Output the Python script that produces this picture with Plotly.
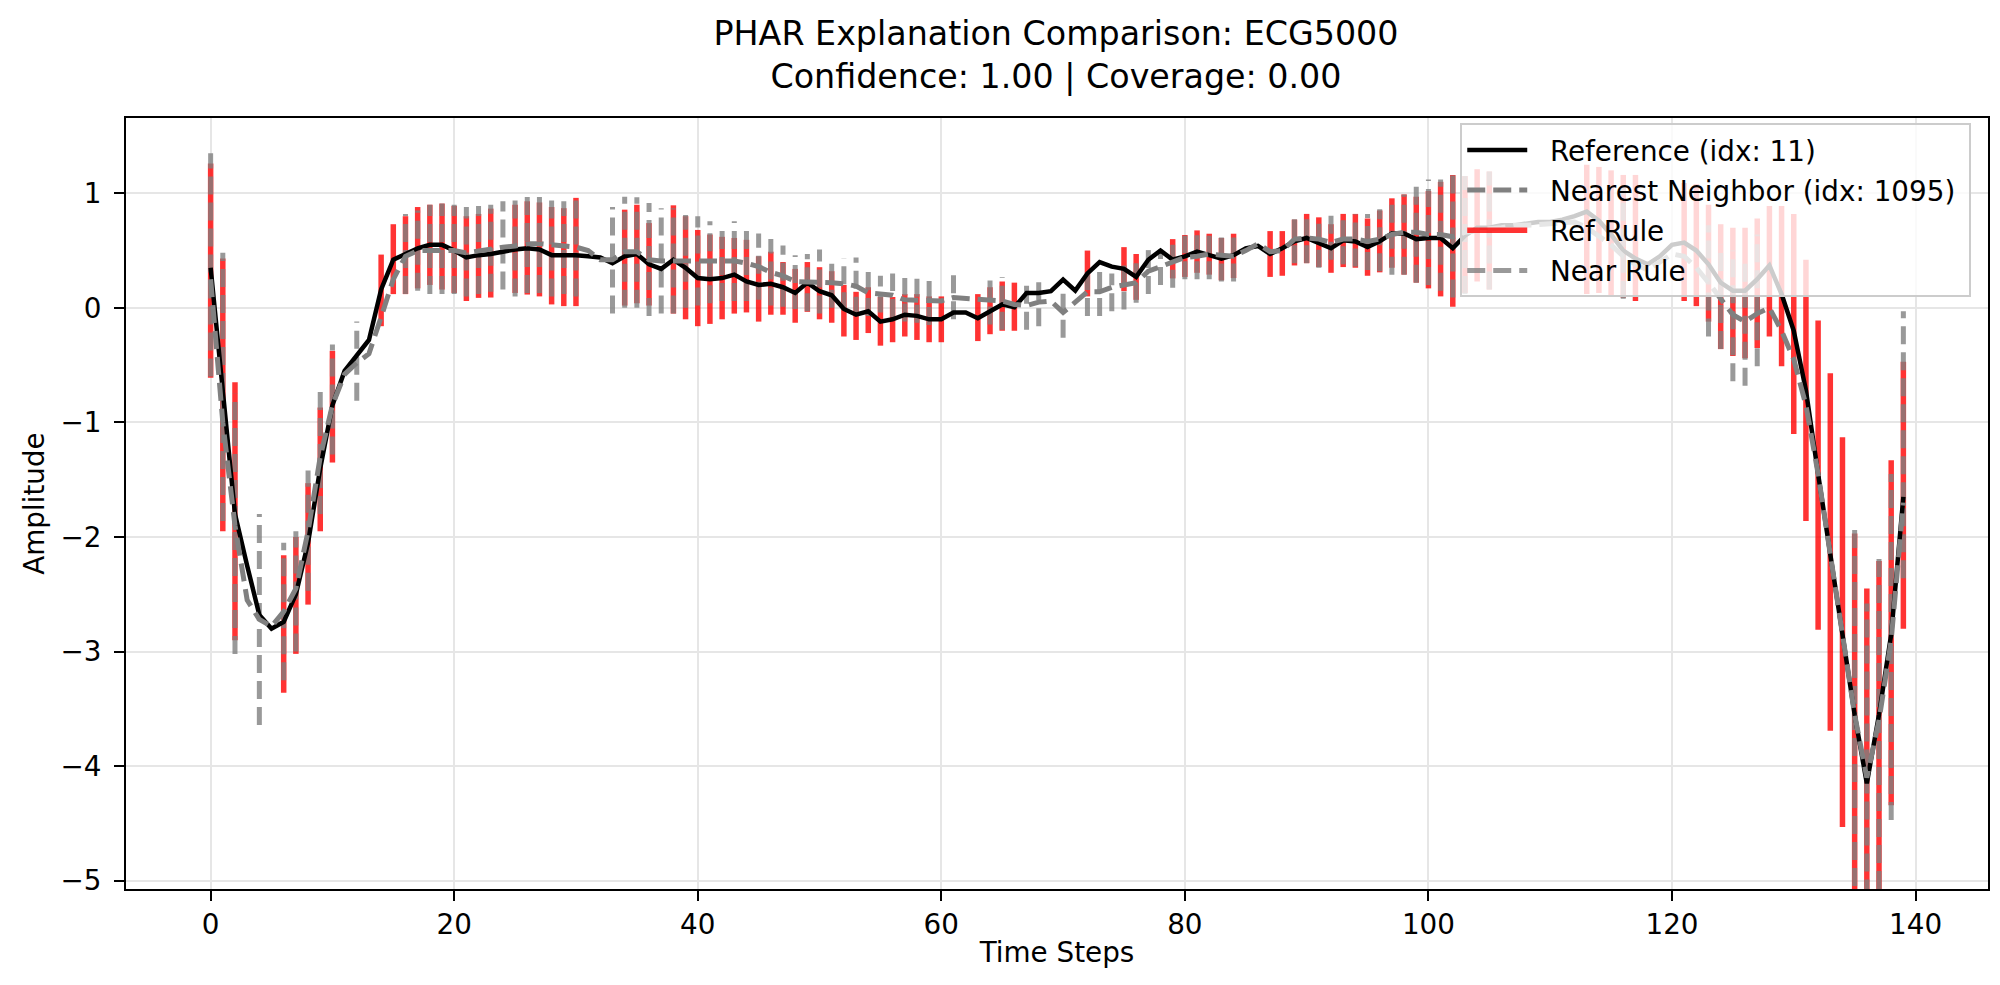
import plotly.graph_objects as go

# ---------------- data ----------------
time_steps = list(range(140))

reference = [
    0.35, -0.76, -1.80, -2.25, -2.68, -2.80, -2.74, -2.50, -2.05, -1.40,
    -0.85, -0.55, -0.42, -0.28, 0.16, 0.42, 0.47, 0.52, 0.55, 0.55,
    0.50, 0.44, 0.46, 0.47, 0.49, 0.51, 0.52, 0.51, 0.46, 0.46,
    0.46, 0.45, 0.44, 0.39, 0.45, 0.47, 0.38, 0.34, 0.42, 0.35,
    0.26, 0.25, 0.26, 0.29, 0.23, 0.20, 0.21, 0.18, 0.13, 0.22,
    0.145, 0.11, -0.01, -0.06, -0.03, -0.12, -0.10, -0.06, -0.07, -0.10,
    -0.10, -0.04, -0.04, -0.09, -0.03, 0.03, 0.005, 0.13, 0.13, 0.145,
    0.246, 0.15, 0.30, 0.40, 0.36, 0.34, 0.27, 0.42, 0.50, 0.42,
    0.45, 0.49, 0.46, 0.43, 0.46, 0.52, 0.54, 0.47, 0.52, 0.58,
    0.61, 0.57, 0.52, 0.59, 0.58, 0.53, 0.58, 0.65, 0.65, 0.60,
    0.61, 0.61, 0.52, 0.63, 0.70, 0.70, 0.72, 0.72, 0.74, 0.75,
    0.75, 0.77, 0.80, 0.84, 0.76, 0.64, 0.50, 0.43, 0.38, 0.45,
    0.55, 0.57, 0.50, 0.38, 0.22, 0.15, 0.15, 0.25, 0.37, 0.12,
    -0.20, -0.72, -1.45, -2.15, -2.80, -3.55, -4.15, -3.55, -2.85, -1.65,
]

neighbor = [
    0.25, -1.00, -1.90, -2.55, -2.72, -2.78, -2.65, -2.45, -1.95, -1.30,
    -0.85, -0.58, -0.48, -0.40, -0.08, 0.25, 0.45, 0.50, 0.50, 0.50,
    0.50, 0.48, 0.50, 0.52, 0.53, 0.54, 0.56, 0.56, 0.55, 0.54,
    0.53, 0.50, 0.42, 0.42, 0.49, 0.49, 0.42, 0.41, 0.41, 0.41,
    0.41, 0.40, 0.40, 0.41, 0.39, 0.36, 0.31, 0.28, 0.23, 0.23,
    0.23, 0.22, 0.21, 0.19, 0.13, 0.12, 0.11, 0.07, 0.07, 0.06,
    0.06, 0.09, 0.08, 0.08, 0.07, 0.06, 0.03, 0.02, 0.05, 0.06,
    -0.04, 0.05, 0.14, 0.14, 0.18, 0.20, 0.22, 0.32, 0.36, 0.40,
    0.44, 0.45, 0.47, 0.46, 0.45, 0.50, 0.56, 0.49, 0.50, 0.60,
    0.61, 0.60, 0.57, 0.60, 0.60, 0.58, 0.60, 0.64, 0.66, 0.66,
    0.64, 0.64, 0.62, 0.66, 0.68, 0.69, 0.70, 0.72, 0.72, 0.73,
    0.74, 0.75, 0.75, 0.70, 0.62, 0.55, 0.45, 0.38, 0.33, 0.40,
    0.47, 0.45, 0.35, 0.22, 0.08, -0.06, -0.12, -0.05, 0.00, -0.20,
    -0.45, -0.85, -1.45, -2.15, -2.85, -3.55, -4.10, -3.60, -2.90, -1.70,
]

N = None
# Reference-rule interval per time step (None = no condition on that step)
ref_rule_low = [
    -0.61, -1.95, -2.90, N, N, N, -3.36, -3.02, -2.59, -1.95,
    -1.35, N, N, N, -0.16, 0.12, 0.12, 0.17, 0.20, 0.16,
    0.13, 0.06, 0.087, 0.09, N, 0.13, 0.116, 0.10, 0.03, 0.015,
    0.015, N, N, N, 0.02, 0.04, 0.02, N, -0.05, -0.10,
    -0.16, -0.14, -0.10, -0.05, -0.04, -0.12, -0.06, -0.06, -0.13, -0.035,
    -0.10, -0.13, -0.25, -0.28, -0.22, -0.33, -0.30, -0.25, -0.28, -0.30,
    -0.30, N, N, -0.29, -0.23, -0.20, -0.20, N, N, N,
    N, N, 0.10, N, N, 0.146, 0.07, N, N, 0.257,
    0.27, 0.306, 0.29, 0.24, 0.26, N, N, 0.27, 0.28, 0.37,
    0.39, 0.356, 0.306, 0.356, 0.35, 0.28, 0.31, 0.35, 0.29, 0.22,
    0.17, 0.10, 0.01, 0.13, 0.23, 0.16, N, N, N, N,
    N, N, N, 0.12, 0.13, 0.10, 0.09, 0.06, N, N,
    N, 0.06, 0.015, -0.12, -0.36, -0.42, -0.44, -0.35, -0.25, -0.51,
    -1.10, -1.86, -2.81, -3.69, -4.53, -5.40, -5.90, -5.30, -4.34, -2.80,
]
ref_rule_high = [
    1.26, 0.43, -0.65, N, N, N, -2.16, -2.00, -1.53, -0.87,
    -0.375, N, N, N, 0.465, 0.73, 0.80, 0.88, 0.90, 0.91,
    0.89, 0.80, 0.82, 0.866, N, 0.90, 0.93, 0.92, 0.88, 0.87,
    0.96, N, N, N, 0.857, 0.90, 0.74, N, 0.895, 0.80,
    0.68, 0.64, 0.62, 0.61, 0.594, 0.45, 0.49, 0.40, 0.34, 0.40,
    0.355, 0.32, 0.20, 0.14, 0.18, 0.095, 0.095, 0.12, 0.12, 0.10,
    0.10, N, N, 0.12, 0.18, 0.23, 0.22, N, N, N,
    N, N, 0.50, N, N, 0.53, 0.47, N, N, 0.60,
    0.636, 0.676, 0.647, 0.61, 0.647, N, N, 0.67, 0.67, 0.77,
    0.82, 0.79, 0.73, 0.82, 0.82, 0.78, 0.85, 0.956, 0.99, 0.97,
    1.02, 1.10, 1.16, 1.15, 1.21, 1.19, N, N, N, N,
    N, N, N, 1.25, 1.23, 1.20, 1.16, 1.16, N, N,
    N, 1.09, 1.08, 0.90, 0.73, 0.70, 0.70, 0.78, 0.89, 0.89,
    0.82, 0.42, -0.11, -0.57, -1.13, -1.97, -2.45, -2.21, -1.33, -0.47,
]

# Nearest-neighbour-rule interval per time step
near_rule_low = [
    -0.60, -1.86, -3.02, N, -3.64, N, -3.25, -3.00, -2.47, -1.80,
    -1.28, N, -0.81, N, N, N, 0.12, 0.15, 0.12, 0.12,
    0.12, 0.10, 0.12, 0.14, 0.16, 0.10, 0.13, 0.13, 0.10, 0.12,
    0.10, N, N, -0.05, 0.00, 0.00, -0.07, -0.05, -0.05, 0.00,
    0.02, 0.04, 0.06, 0.06, 0.06, 0.07, 0.02, 0.01, -0.01, -0.03,
    -0.05, 0.00, -0.02, -0.06, -0.07, -0.04, -0.08, -0.12, -0.13, -0.15,
    N, -0.10, N, N, -0.145, -0.19, N, -0.19, -0.16, N,
    -0.26, N, -0.07, -0.07, -0.03, -0.015, 0.044, 0.12, 0.20, 0.175,
    0.25, 0.25, 0.25, 0.23, 0.23, N, N, N, N, 0.39,
    0.39, 0.35, 0.42, 0.38, 0.36, 0.33, 0.32, 0.29, 0.29, 0.22,
    0.20, 0.15, 0.09, 0.12, N, 0.16, N, N, N, N,
    N, N, N, N, N, N, 0.08, N, N, N,
    N, N, N, -0.25, -0.36, -0.64, -0.68, -0.51, N, N,
    N, N, N, N, N, -5.50, -5.60, -5.30, -4.47, -2.36,
]
near_rule_high = [
    1.35, 0.48, -0.75, N, -1.80, N, -2.05, -1.95, -1.42, -0.73,
    -0.32, N, -0.12, N, N, N, 0.82, 0.85, 0.90, 0.91,
    0.90, 0.88, 0.89, 0.90, 0.93, 0.965, 0.97, 0.98, 0.98, 0.93,
    0.96, N, N, 0.88, 0.97, 0.965, 0.915, 0.87, 0.87, 0.81,
    0.80, 0.755, 0.74, 0.755, 0.72, 0.65, 0.60, 0.545, 0.46, 0.47,
    0.51, 0.44, 0.435, 0.44, 0.33, 0.28, 0.30, 0.26, 0.275, 0.27,
    N, 0.30, N, N, 0.29, 0.27, N, 0.23, 0.246, N,
    0.16, N, 0.35, 0.35, 0.30, 0.41, 0.39, 0.53, 0.51, 0.55,
    0.63, 0.66, 0.63, 0.62, 0.64, N, N, N, N, 0.82,
    0.82, 0.80, 0.82, 0.78, 0.82, 0.82, 0.86, 0.96, 0.99, 1.09,
    1.12, 1.12, 1.17, 1.15, N, 1.19, N, N, N, N,
    N, N, N, N, N, N, 1.05, N, N, N,
    N, N, N, 0.72, 0.55, 0.50, 0.45, 0.64, N, N,
    N, N, N, N, N, -1.89, -2.58, -2.13, -1.45, -0.03,
]

title_lines = ["PHAR Explanation Comparison: ECG5000",
               "Confidence: 1.00 | Coverage: 0.00"]
x_ticks = [0, 20, 40, 60, 80, 100, 120, 140]
y_ticks = [-5, -4, -3, -2, -1, 0, 1]


def segments(ts, lows, highs):
    xs, ys = [], []
    for t, lo, hi in zip(ts, lows, highs):
        if lo is None or hi is None:
            continue
        xs += [t, t, None]
        ys += [lo, hi, None]
    return xs, ys


FONT = "DejaVu Sans"
FS = 27.8
PAD = "\u00a0\u00a0"
fig = go.Figure()

rx, ry = segments(time_steps, ref_rule_low, ref_rule_high)
nx, ny = segments(time_steps, near_rule_low, near_rule_high)

fig.add_trace(go.Scatter(
    x=rx, y=ry, mode="lines", name=PAD + "Ref Rule", legendrank=3,
    legendgroup="c",
    line=dict(color="rgba(255,0,0,0.8)", width=5.5),
    hoverinfo="skip"))
fig.add_trace(go.Scatter(
    x=nx, y=ny, mode="lines", name=PAD + "Near Rule", legendrank=4,
    legendgroup="d",
    line=dict(color="rgba(128,128,128,0.8)", width=5, dash="18px,8px"),
    hoverinfo="skip"))
fig.add_trace(go.Scatter(
    x=time_steps, y=reference, mode="lines",
    name=PAD + "Reference (idx: 11)", legendgroup="a",
    legendrank=1, line=dict(color="black", width=4.5), hoverinfo="skip"))
fig.add_trace(go.Scatter(
    x=time_steps, y=neighbor, mode="lines",
    name=PAD + "Nearest Neighbor (idx: 1095)\u00a0", legendrank=2,
    legendgroup="b",
    line=dict(color="rgb(128,128,128)", width=5, dash="18px,8px"),
    hoverinfo="skip"))

axis_common = dict(
    showline=True, linecolor="black", linewidth=2, mirror=True,
    ticks="outside", ticklen=10, tickwidth=2, tickcolor="black",
    showgrid=True, gridcolor="#e6e6e6", gridwidth=2,
    zeroline=False,
    tickfont=dict(family=FONT, size=FS, color="black"),
)

fig.update_layout(
    width=2000, height=985,
    paper_bgcolor="white", plot_bgcolor="white",
    margin=dict(l=118, r=20, t=110, b=104),
    font=dict(family=FONT, size=FS, color="black"),
    title=dict(text="<br>".join(title_lines), x=0.524, xanchor="center",
               y=1 - 37 / 985, yanchor="middle", yref="container",
               font=dict(family=FONT, size=33.3, color="black")),
    xaxis=dict(range=[-6.95, 145.95], tickvals=x_ticks,
               title=dict(text="Time Steps", standoff=2,
                          font=dict(family=FONT, size=FS)),
               **axis_common),
    yaxis=dict(range=[-5.072, 1.657], tickvals=y_ticks,
               ticklabelstandoff=7,
               title=dict(text="Amplitude", standoff=8,
                          font=dict(family=FONT, size=FS)),
               **axis_common),
    legend=dict(x=0.991, y=0.993, xanchor="right", yanchor="top",
                bgcolor="rgba(255,255,255,0.8)", bordercolor="#cccccc",
                borderwidth=2, font=dict(family=FONT, size=FS),
                itemwidth=60, tracegroupgap=1),
    showlegend=True,
)

fig.write_html("out.html", config={"displayModeBar": False})
